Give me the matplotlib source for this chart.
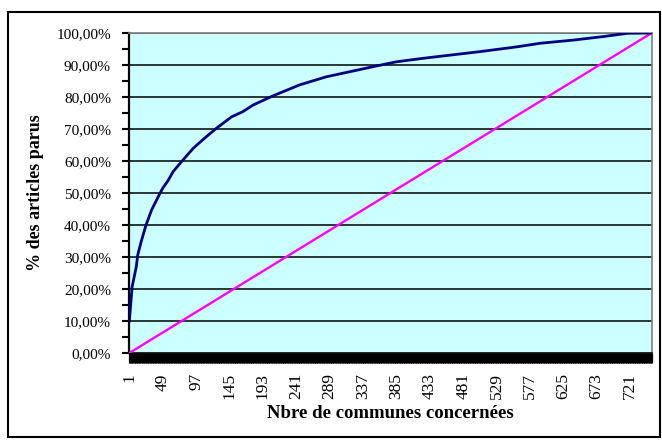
import numpy as np
import matplotlib
matplotlib.use('Agg')
from matplotlib import pyplot as plt
from matplotlib.patches import Rectangle

plt.rcParams['font.family'] = ['Liberation Serif', 'DejaVu Serif']

# Number of communes on the category axis
n_communes = 752

# Cumulative share of articles (navy curve), read at a set of communes
cum_communes = [1, 5, 11, 13, 18, 25, 33, 45, 49, 57, 64, 78, 93, 109, 126, 148,
                164, 179, 208, 246, 284, 318, 352, 385, 424, 455, 506, 559,
                592, 640, 683, 717, 752]
cum_pct = [10.0, 20.7, 27.0, 30.6, 34.8, 40.0, 44.7, 49.9, 51.5, 54.0, 56.7, 60.3,
           64.0, 67.1, 70.2, 73.8, 75.4, 77.5, 80.4, 83.8, 86.3, 87.9, 89.5,
           91.0, 92.1, 92.9, 94.2, 95.7, 96.8, 97.8, 98.9, 99.9, 100.0]

# Equal-distribution line (magenta)
diag_communes = [1, n_communes]
diag_pct = [0.0, 100.0]

tick_labels = list(range(1, n_communes, 48))

fig = plt.figure(figsize=(6.62, 4.43), dpi=100)
ax = fig.add_axes([129 / 662, 1 - 353 / 443, 523 / 662, 320 / 443])
ax.set_facecolor('#CCFFFF')

# horizontal gridlines
for g in range(10, 101, 10):
    ax.axhline(g, color='black', lw=1.1, zorder=1)

ax.plot(diag_communes, diag_pct, color='#FF00FF', lw=1.7, zorder=3)
ax.plot(cum_communes, cum_pct, color='#000080', lw=2.0, zorder=4)

ax.set_xlim(0.5, n_communes + 0.5)
ax.set_ylim(0, 100)

# every commune gets its own tick mark, labels every 48
ax.set_xticks(np.arange(0.5, n_communes + 1, 1.0), minor=True)
ax.set_xticks(tick_labels)
ax.set_xticklabels([str(t) for t in tick_labels], rotation=90, fontsize=12.5)
ax.tick_params(axis='x', which='minor', length=7, width=0.9, color='black', direction='out')
ax.tick_params(axis='x', which='major', length=0, pad=14.5)

ax.set_yticks(np.arange(0, 101, 10))
ax.set_yticks(np.arange(5, 100, 10), minor=True)
ax.set_yticklabels(['%d,00%%' % v for v in range(0, 101, 10)], fontsize=11)
ax.tick_params(axis='y', which='both', length=5, width=1.5, direction='out', pad=8)

for side in ['top', 'right']:
    ax.spines[side].set_color('#808080')
    ax.spines[side].set_linewidth(1.2)
ax.spines['left'].set_linewidth(1.6)
ax.spines['bottom'].set_linewidth(1.2)

ax.set_xlabel('Nbre de communes concernées', fontsize=13.5, fontweight='bold', labelpad=4)
ax.set_ylabel('% des articles parus', fontsize=13, fontweight='bold', labelpad=9)

# chart border
fig.patches.append(Rectangle((8 / 662, 1 - 437 / 443), 652 / 662, 425 / 443,
                             transform=fig.transFigure, fill=False,
                             edgecolor='black', lw=1.5))

fig.savefig('out.png', dpi=100)
